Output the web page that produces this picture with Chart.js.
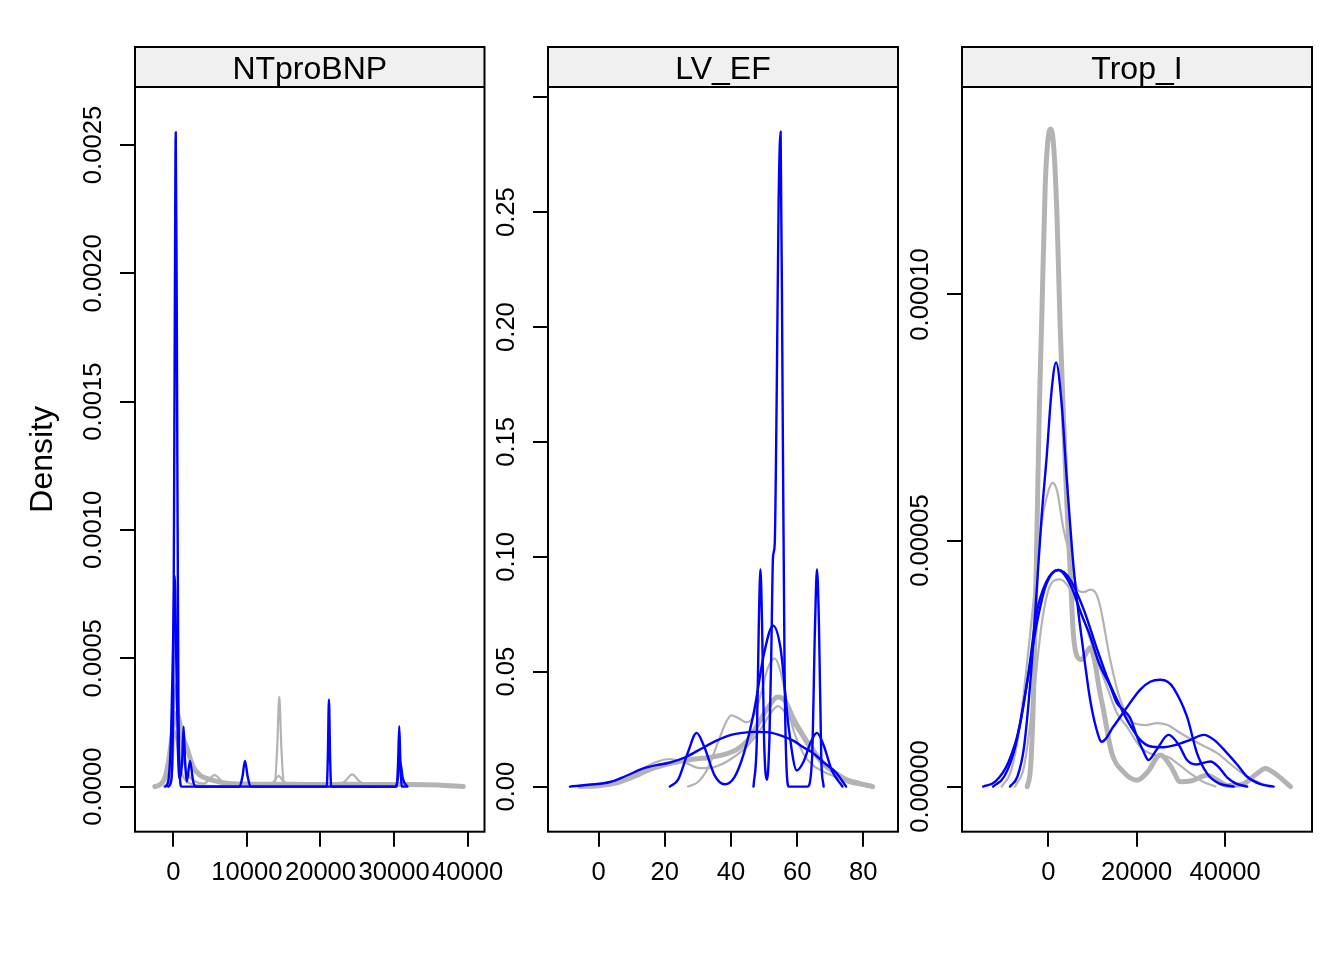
<!DOCTYPE html>
<html><head><meta charset="utf-8">
<script src="https://cdn.jsdelivr.net/npm/chart.js@4.4.1/dist/chart.umd.min.js"></script>
<style>
html,body{margin:0;padding:0;background:#fff;}
#wrap{position:relative;width:1344px;height:960px;background:#fff;overflow:hidden;}
canvas{position:absolute;top:0;}
</style></head><body>
<div id="wrap">
<canvas id="c1" width="520" height="960" style="left:0px;width:520px;height:960px"></canvas>
<canvas id="c2" width="500" height="960" style="left:420px;width:500px;height:960px"></canvas>
<canvas id="c3" width="510" height="960" style="left:834px;width:510px;height:960px"></canvas>
</div>
<script>
// ---------- panel titles ----------
const panelTitles = ['NTproBNP', 'LV_EF', 'Trop_I'];
const yAxisTitle = 'Density';

// ---------- NTproBNP ----------
const ntXTicks = [0, 10000, 20000, 30000, 40000];
const ntXLabels = ['0', '10000', '20000', '30000', '40000'];
const ntYTicks = [0, 0.0005, 0.001, 0.0015, 0.002, 0.0025];
const ntYLabels = ['0.0000', '0.0005', '0.0010', '0.0015', '0.0020', '0.0025'];
const ntXRange = [-5204, 42283];
const ntYRange = [-0.0001757, 0.002726];

const ntObsX = [-2500,-1800,-1200,-700,-300,100,450,800,1200,1800,2700,3600,4500,6000,7500,10000,13000,16000,20000,24000,28000,32000,36000,39400];
const ntObsY = [0,0.000008,0.00003,0.00009,0.00017,0.00026,0.000285,0.00026,0.0002,0.000155,0.000077,0.000045,0.000032,0.00002,0.0000125,0.00001,0.000009,0.000009,0.000008,0.000009,0.000008,0.000008,0.000006,0];
const ntGrayAX = [-1300,-600,-100,370,800,1300,2000,3000,4200,5600,7000,9000,12500,13700,14300,15000,16500,22000,23300,24300,25300,26500];
const ntGrayAY = [0,0.00003,0.00018,0.0004,0.00028,0.00012,0.00005,0.00002,0.000012,0.000045,0.00001,0.000003,0.000003,0.00002,0.000042,0.00002,0.000003,0.000003,0.00002,0.000048,0.00002,0];
const ntGrayBX = [-600,-100,150,450,900,1500,2500,4000,8000,13700,14100,14400,14700,15100,20000,25000,28000];
const ntGrayBY = [0,0.00008,0.00022,0.00018,0.00008,0.00003,0.00001,0.000004,0.000002,0.000004,0.00014,0.00035,0.00014,0.000004,0.000003,0.000003,0];
const ntBlueAX = [-700,-300,0,200,330,480,700,1100,20850,21000,21150,21300,21450,30350,30550,30700,30850,31050,31600];
const ntBlueAY = [0,0.00002,0.0004,0.0018,0.00255,0.0018,0.0003,0,0,0.00012,0.00034,0.00012,0,0,0.0001,0.000235,0.0001,0,0];
const ntBlueBX = [-1100,-700,-300,0,200,400,650,900,1200,1400,1600,1850,2270,2700,3100,9000,9400,9740,10100,10500,30200,30500,30800,31200,31800];
const ntBlueBY = [0,0.00002,0.0002,0.0006,0.00082,0.0005,0.00012,0.00003,0.0001,0.000233,0.0001,0.00002,0.0001,0.00002,0,0,0.00004,0.0001,0.00004,0,0,0.00003,0.0001,0.00003,0];

// ---------- LV_EF ----------
const lvXTicks = [0, 20, 40, 60, 80];
const lvXLabels = ['0', '20', '40', '60', '80'];
const lvYTicks = [0, 0.05, 0.1, 0.15, 0.2, 0.25, 0.3];
const lvYLabels = ['0.00', '0.05', '0.10', '0.15', '0.20', '0.25', ''];
const lvXRange = [-15.33, 90.49];
const lvYRange = [-0.01963, 0.30448];

const lvObsX = [-5.6,0,5,10,16.5,22.5,28,33.6,38,41.6,45,47.7,51,54.2,56.5,58.7,61.5,64.7,68,71.8,75,78.8,82.8];
const lvObsY = [0,0.0004,0.0015,0.004,0.008,0.0104,0.0118,0.0127,0.014,0.016,0.02,0.026,0.034,0.039,0.037,0.030,0.023,0.016,0.010,0.0058,0.003,0.0014,0];
const lvGrayAX = [27,30,33,36,38.5,40.1,42,44.6,47,49,51,53.2,55,57,59,62,65,68,72,76,81.3];
const lvGrayAY = [0,0.002,0.008,0.019,0.028,0.031,0.030,0.028,0.031,0.040,0.051,0.0558,0.050,0.036,0.024,0.014,0.009,0.0065,0.004,0.0015,0];
const lvGrayBX = [-3,3,8,13,17,21.5,26,30.6,35,40,44.7,49,52,54.2,57,60.8,64,68,72,76,80,83];
const lvGrayBY = [0,0.0008,0.003,0.0075,0.0105,0.012,0.0105,0.008,0.0085,0.012,0.0173,0.025,0.032,0.035,0.031,0.023,0.016,0.009,0.005,0.0025,0.001,0];
const lvBlueAX = [-8.7,-3,3.4,8,13.5,18,21.5,26.5,31,35.6,40,43.5,47,50.7,54.5,58.8,62,64.8,68,71.8,74.8];
const lvBlueAY = [0,0.0008,0.002,0.0045,0.0079,0.0095,0.0104,0.013,0.0165,0.020,0.0225,0.0234,0.0238,0.0237,0.0225,0.020,0.017,0.0146,0.0105,0.006,0];
const lvBlueBX = [21.5,24,27,29.6,32,35,38.1,41,44,47,50,52.7,55,57.5,59.9,62,64,66,68,70.5,73.7];
const lvBlueBY = [0,0.003,0.015,0.0234,0.017,0.005,0.001,0.004,0.015,0.033,0.058,0.070,0.060,0.025,0.007,0.011,0.019,0.0234,0.018,0.007,0];
const lvBlueCX = [46.8,47.8,48.4,48.9,49.4,50.0,50.9,51.6,52.2,52.7,53.2,53.8,54.4,55.0,55.6,56.2,56.9,57.5,63.1,64.5,65.4,66,66.6,67.3,68];
const lvBlueCY = [0,0.02,0.07,0.0946,0.07,0.02,0.003,0.02,0.06,0.1,0.105,0.168,0.255,0.285,0.168,0.05,0.005,0,0,0.012,0.07,0.0946,0.07,0.012,0];

// ---------- Trop_I ----------
const tpXTicks = [0, 20000, 40000];
const tpXLabels = ['0', '20000', '40000'];
const tpYTicks = [0, 0.00005, 0.0001];
const tpYLabels = ['0.00000', '0.00005', '0.00010'];
const tpXRange = [-19525, 59660];
const tpYRange = [-0.000009163, 0.00014214];

const tpObsX = [-4760,-4000,-3300,-2630,-2000,-1500,-700,0,612,1300,2000,2650,3400,4170,5000,5670,6500,7570,8500,9460,10500,11500,12470,14370,17000,20040,22500,25330,27800,29860,32500,35900,38500,40450,44000,47000,49140,51500,54800];
const tpObsY = [0,0.000004,0.00002,0.000049,0.000078,0.0000944,0.000122,0.000132,0.0001336,0.000129,0.000115,0.0000944,0.000076,0.000058,0.000043,0.000031,0.0000265,0.0000258,0.000027,0.0000282,0.0000255,0.00002,0.0000156,0.0000068,0.000003,0.0000013,0.000003,0.0000064,0.000004,0.000001,0.0000012,0.0000023,0.0000012,0.0000002,0.0000005,0.0000025,0.0000037,0.0000025,0];
const tpGrayAX = [-10570,-8500,-6500,-4150,-2500,-1500,0,990,2000,3400,4920,6800,8000,9460,10600,11720,14000,16260,19280,22000,24580,27000,29860,34000,38190,42000,45000,48000,50270];
const tpGrayAY = [0,0.000003,0.000012,0.0000307,0.000045,0.0000535,0.00006,0.0000617,0.00006,0.0000525,0.000047,0.0000398,0.0000395,0.00004,0.0000395,0.0000367,0.0000258,0.0000177,0.0000129,0.0000125,0.0000129,0.0000125,0.0000109,0.0000088,0.0000068,0.000004,0.000002,0.0000007,0];
const tpGrayBX = [-7500,-5500,-3500,-1500,500,2650,5000,8000,10500,13240,15500,17780,20800,23800,26850,29500,32130,35000,37800];
const tpGrayBY = [0,0.000004,0.000017,0.000033,0.000041,0.0000421,0.00004,0.000034,0.000027,0.0000204,0.000015,0.0000122,0.0000081,0.0000065,0.0000061,0.0000045,0.0000027,0.000001,0];
const tpBlueAX = [-8680,-7000,-5500,-4000,-2630,-1500,-360,700,1750,3000,4170,5300,6050,7190,8300,9460,10800,12100,14740,17400,20800,23060,25330,27000,28340,31380,33640,35900,38500,41950];
const tpBlueAY = [0,0.000002,0.000008,0.000022,0.0000398,0.000055,0.0000671,0.00008,0.0000862,0.000078,0.0000625,0.000049,0.0000415,0.0000326,0.000025,0.0000177,0.000012,0.0000091,0.0000122,0.0000156,0.0000197,0.0000213,0.0000217,0.0000213,0.00002,0.0000142,0.0000068,0.0000027,0.0000007,0];
const tpBlueBX = [-14740,-12000,-9000,-6420,-4500,-2630,-500,2270,5000,8000,11000,13240,16260,18500,20800,23000,26000,29000,32130,35150,37500,40450,43000,45000,48000,51000];
const tpBlueBY = [0,0.000001,0.000005,0.0000125,0.000023,0.0000353,0.0000415,0.000044,0.000042,0.000036,0.000028,0.0000224,0.0000163,0.0000125,0.0000095,0.0000082,0.000008,0.0000085,0.0000095,0.0000105,0.0000095,0.0000068,0.0000042,0.000002,0.0000005,0];
const tpBlueCX = [-12500,-10000,-7500,-5000,-2630,-500,2270,5000,7500,9460,11500,14000,15500,17000,18500,20040,21500,22680,24500,27200,29500,31380,33500,36670,38500,40500,42500,45000];
const tpBlueCY = [0,0.000002,0.000008,0.00002,0.000033,0.000041,0.000044,0.000041,0.000035,0.0000306,0.000025,0.0000204,0.000017,0.0000156,0.000014,0.0000102,0.0000072,0.0000054,0.0000075,0.0000105,0.0000085,0.0000054,0.0000045,0.0000051,0.000004,0.0000018,0.0000006,0];

// ---------- styling ----------
const FONT = '"Liberation Sans", Arial, Helvetica, sans-serif';
const TICK_SIZE = 25.6;
const STRIP_TOP = 47;
const STRIP_H = 40;
const PLOT_BOTTOM = 831.7;
const TICK_LEN = 15;
const Y_LABEL_OFFSET = 41.5;
const GRAY = '#B3B3B3';
const BLUE = '#0000FF';
const STYLES = {
  obs:  { color: GRAY, width: 5.0, order: 3 },
  gray: { color: GRAY, width: 2.2, order: 2 },
  blue: { color: BLUE, width: 2.4, order: 1 }
};

function pts(xs, ys) { return xs.map((v, i) => ({ x: v, y: ys[i] })); }

function measureWidest(labels) {
  const c = document.createElement('canvas').getContext('2d');
  c.font = TICK_SIZE + 'px ' + FONT;
  return Math.max(...labels.map(s => c.measureText(s).width));
}

const stripPlugin = {
  id: 'stripBox',
  beforeDraw(chart) {
    const { ctx, chartArea: a } = chart;
    ctx.save();
    ctx.fillStyle = '#F0F0F0';
    ctx.fillRect(a.left, STRIP_TOP, a.right - a.left, a.top - STRIP_TOP);
    ctx.restore();
  },
  afterDraw(chart) {
    const { ctx, chartArea: a } = chart;
    ctx.save();
    ctx.strokeStyle = '#000';
    ctx.lineWidth = 2;
    ctx.strokeRect(a.left, STRIP_TOP, a.right - a.left, a.bottom - STRIP_TOP);
    ctx.beginPath();
    ctx.moveTo(a.left, a.top);
    ctx.lineTo(a.right, a.top);
    ctx.stroke();
    ctx.restore();
  }
};

function buildPanel(id, title, series, xRange, yRange, xTicks, xLabels, yTicks, yLabels, yWidth, padRight, showYTitle) {
  const widest = measureWidest(yLabels);
  const yPad = Y_LABEL_OFFSET - TICK_LEN - widest / 2;
  const datasets = series.map(s => ({
    data: pts(s.x, s.y),
    showLine: true,
    borderColor: STYLES[s.kind].color,
    borderWidth: STYLES[s.kind].width,
    order: STYLES[s.kind].order,
    pointRadius: 0,
    pointHoverRadius: 0,
    fill: false,
    cubicInterpolationMode: 'monotone',
    borderJoinStyle: 'round',
    borderCapStyle: 'round'
  }));
  return new Chart(document.getElementById(id), {
    type: 'scatter',
    data: { datasets },
    plugins: [stripPlugin],
    options: {
      responsive: false,
      animation: false,
      events: [],
      layout: { padding: { top: STRIP_TOP, right: padRight, bottom: 0, left: 0 } },
      plugins: {
        legend: { display: false },
        tooltip: { enabled: false },
        title: {
          display: true, text: title, fullSize: false, color: '#000',
          font: { family: FONT, size: 32, weight: 'normal', lineHeight: STRIP_H / 32 },
          padding: { top: 3, bottom: -3 }
        }
      },
      scales: {
        x: {
          type: 'linear', min: xRange[0], max: xRange[1],
          afterBuildTicks: sc => { sc.ticks = xTicks.map(v => ({ value: v })); },
          afterFit: sc => { sc.height = 960 - PLOT_BOTTOM; },
          ticks: {
            autoSkip: false, minRotation: 0, maxRotation: 0, padding: 11, color: '#000',
            font: { family: FONT, size: TICK_SIZE },
            callback: (v, i) => xLabels[i]
          },
          grid: { display: true, drawOnChartArea: false, drawTicks: true, tickLength: TICK_LEN, color: '#000', lineWidth: 2, tickColor: '#000', tickWidth: 2 },
          border: { display: false }
        },
        y: {
          type: 'linear', min: yRange[0], max: yRange[1],
          afterBuildTicks: sc => { sc.ticks = yTicks.map(v => ({ value: v })); },
          afterFit: sc => { sc.width = yWidth; },
          ticks: {
            autoSkip: false, minRotation: 90, maxRotation: 90, crossAlign: 'center', padding: yPad, color: '#000',
            font: { family: FONT, size: TICK_SIZE },
            callback: (v, i) => yLabels[i]
          },
          grid: { display: true, drawOnChartArea: false, drawTicks: true, tickLength: TICK_LEN, color: '#000', lineWidth: 2, tickColor: '#000', tickWidth: 2 },
          border: { display: false },
          title: {
            display: showYTitle, text: yAxisTitle, color: '#000',
            font: { family: FONT, size: 32, lineHeight: 1.2 },
            padding: { top: 24, bottom: 0 }
          }
        }
      }
    }
  });
}

buildPanel('c1', panelTitles[0], [
  { kind: 'obs', x: ntObsX, y: ntObsY },
  { kind: 'gray', x: ntGrayAX, y: ntGrayAY },
  { kind: 'gray', x: ntGrayBX, y: ntGrayBY },
  { kind: 'blue', x: ntBlueAX, y: ntBlueAY },
  { kind: 'blue', x: ntBlueBX, y: ntBlueBY }
], ntXRange, ntYRange, ntXTicks, ntXLabels, ntYTicks, ntYLabels, 135, 35.5, true);

buildPanel('c2', panelTitles[1], [
  { kind: 'obs', x: lvObsX, y: lvObsY },
  { kind: 'gray', x: lvGrayAX, y: lvGrayAY },
  { kind: 'gray', x: lvGrayBX, y: lvGrayBY },
  { kind: 'blue', x: lvBlueAX, y: lvBlueAY },
  { kind: 'blue', x: lvBlueBX, y: lvBlueBY },
  { kind: 'blue', x: lvBlueCX, y: lvBlueCY }
], lvXRange, lvYRange, lvXTicks, lvXLabels, lvYTicks, lvYLabels, 128, 22, false);

buildPanel('c3', panelTitles[2], [
  { kind: 'obs', x: tpObsX, y: tpObsY },
  { kind: 'gray', x: tpGrayAX, y: tpGrayAY },
  { kind: 'gray', x: tpGrayBX, y: tpGrayBY },
  { kind: 'blue', x: tpBlueAX, y: tpBlueAY },
  { kind: 'blue', x: tpBlueBX, y: tpBlueBY },
  { kind: 'blue', x: tpBlueCX, y: tpBlueCY }
], tpXRange, tpYRange, tpXTicks, tpXLabels, tpYTicks, tpYLabels, 128, 32, false);
</script>
</body></html>
